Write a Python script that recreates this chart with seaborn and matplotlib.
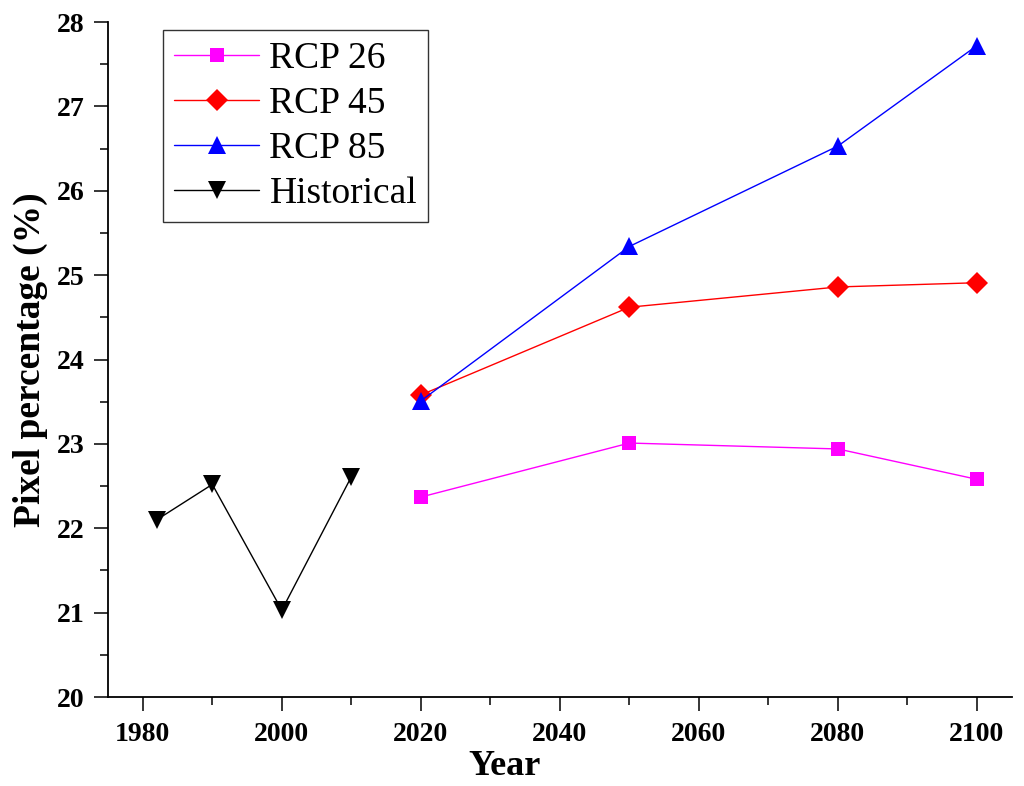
import numpy as np
import pandas as pd
import matplotlib
matplotlib.use("Agg")
import matplotlib.pyplot as plt
import seaborn as sns
from matplotlib.ticker import MultipleLocator

# values
hist_years = [1982, 1990, 2000, 2010]
hist_values = [22.10, 22.52, 21.03, 22.61]

future_years = [2020, 2050, 2080, 2100]
rcp26_values = [22.37, 23.01, 22.94, 22.58]
rcp45_values = [23.58, 24.62, 24.86, 24.91]
rcp85_values = [23.51, 25.34, 26.53, 27.72]

series_names = ["RCP 26", "RCP 45", "RCP 85", "Historical"]

sns.set_style("ticks")
plt.rcParams['font.family'] = ['Liberation Serif', 'DejaVu Serif']
plt.rcParams['text.color'] = 'black'
plt.rcParams['axes.labelcolor'] = 'black'
plt.rcParams['xtick.color'] = 'black'
plt.rcParams['ytick.color'] = 'black'

fig = plt.figure(figsize=(10.24, 7.86), dpi=100)
ax = fig.add_axes([0.1055, 0.1132, 0.8825, 0.8588])

series = [
    (series_names[0], future_years, rcp26_values, "#ff00ff", "s", 10),
    (series_names[1], future_years, rcp45_values, "#ff0000", "D", 11),
    (series_names[2], future_years, rcp85_values, "#0000ff", "^", 12.5),
    (series_names[3], hist_years, hist_values, "#000000", "v", 12.5),
]

for name, xs, ys, color, marker, ms in series:
    df = pd.DataFrame({"Year": xs, "Value": ys})
    sns.lineplot(data=df, x="Year", y="Value", ax=ax, color=color,
                 marker=marker, markersize=ms, markeredgewidth=0,
                 linewidth=1, label=name)

ax.set_xlim(1975, 2105)
ax.set_ylim(20, 28)
ax.xaxis.set_major_locator(MultipleLocator(20))
ax.xaxis.set_minor_locator(MultipleLocator(10))
ax.yaxis.set_major_locator(MultipleLocator(1))
ax.yaxis.set_minor_locator(MultipleLocator(0.5))

ax.tick_params(which='major', direction='out', length=10, width=1.1,
               labelsize=20)
ax.tick_params(which='minor', direction='out', length=5.5, width=1.1)
ax.tick_params(axis='x', which='major', pad=8)
ax.tick_params(axis='y', which='major', pad=7)
for lbl in ax.get_xticklabels() + ax.get_yticklabels():
    lbl.set_fontweight('bold')

for side in ['top', 'right']:
    ax.spines[side].set_visible(False)
for side in ['left', 'bottom']:
    ax.spines[side].set_linewidth(1.3)
    ax.spines[side].set_color('black')

ax.set_xlabel("Year", fontsize=26, fontweight='bold')
ax.set_ylabel("Pixel percentage (%)", fontsize=27, fontweight='bold')
ax.xaxis.set_label_coords(0.439, -0.078)
ax.yaxis.set_label_coords(-0.066, 0.5)

leg = ax.legend(loc='upper left', bbox_to_anchor=(0.0608, 0.988),
                fontsize=27, frameon=True, fancybox=False,
                handlelength=2.27, handletextpad=0.27, labelspacing=0.28,
                borderpad=0.3, borderaxespad=0)
leg.get_frame().set_edgecolor('black')
leg.get_frame().set_linewidth(1.0)

fig.savefig("out.png", dpi=100)
